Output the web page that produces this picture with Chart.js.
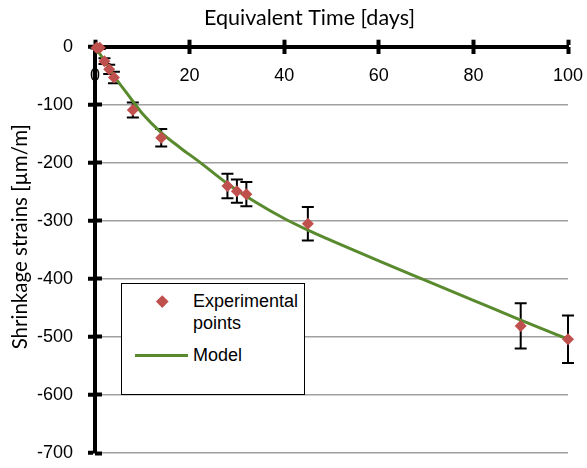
<!DOCTYPE html>
<html>
<head>
<meta charset="utf-8">
<title>Shrinkage strains</title>
<script src="https://cdn.jsdelivr.net/npm/chart.js@4.4.1/dist/chart.umd.min.js"></script>
<style>
  html, body { margin: 0; padding: 0; background: #fff; }
  #wrap { position: relative; width: 587px; height: 468px; }
  #legend {
    position: absolute; left: 121px; top: 283px; width: 184px; height: 112px;
    box-sizing: border-box; border: 1.5px solid #000; background: #fff;
    font-family: "Liberation Sans", Arial, sans-serif; font-size: 18px; color: #000;
  }
  #legend .txt { position: absolute; left: 71px; width: 110px; line-height: 21.5px; }
  #legend .dia { position: absolute; width: 8.5px; height: 8.5px; transform: rotate(45deg); }
  #legend .ln { position: absolute; height: 3px; }
</style>
</head>
<body>
<div id="wrap">
  <canvas id="shrinkChart" width="587" height="468"></canvas>
  <div id="legend"></div>
</div>
<script>
//[Shrinkage vs equivalent time]

// experimental points (days, strain, +/- error)
var expDays   = [0.3, 1, 2, 3, 4, 8, 14, 28, 30, 32, 45, 90, 100];
var expStrain = [-2, -2, -25, -39, -53, -109, -157, -240, -249, -254, -305, -481, -504];
var expErr    = [1, 2, 5, 8, 10, 13, 15, 21, 20, 21, 29, 39, 41];

// model curve
var modelDays   = [0, 2, 4, 7, 10, 14, 18, 22, 28, 34, 40, 45, 50, 60, 70, 80, 90, 100];
var modelStrain = [0, -24, -50, -83, -115, -148, -174, -198, -236, -268, -296, -316, -334, -369, -403, -437, -471, -504];

var xTicks = [0, 20, 40, 60, 80, 100];
var yTicks = [0, -100, -200, -300, -400, -500, -600, -700];

var seriesLabels = ['Experimental points', 'Model'];
var red   = '#c0504d';
var green = '#5a8a2e';

function pairs(xs, ys) {
  var out = [];
  for (var i = 0; i < xs.length; i++) out.push({x: xs[i], y: ys[i]});
  return out;
}

// error bars, drawn with the chart's own scales
var errorBars = {
  id: 'errorBars',
  beforeDatasetsDraw: function (chart) {
    var ctx = chart.ctx, xs = chart.scales.x, ys = chart.scales.y;
    ctx.save();
    ctx.strokeStyle = '#000';
    ctx.lineWidth = 2;
    for (var i = 0; i < expDays.length; i++) {
      var px = xs.getPixelForValue(expDays[i]);
      var top = ys.getPixelForValue(expStrain[i] + expErr[i]);
      var bot = ys.getPixelForValue(expStrain[i] - expErr[i]);
      ctx.beginPath();
      ctx.moveTo(px, top); ctx.lineTo(px, bot);
      ctx.moveTo(px - 6, top); ctx.lineTo(px + 6, top);
      ctx.moveTo(px - 6, bot); ctx.lineTo(px + 6, bot);
      ctx.stroke();
    }
    ctx.restore();
  }
};

var tickFont  = {family: '"Liberation Sans", Arial, sans-serif', size: 18};
var titleFont = {family: 'Lato, "Open Sans", sans-serif', size: 21.5};
var yTitleFont = {family: 'Lato, "Open Sans", sans-serif', size: 20.5};

// label padding should not eat into the plot area
function noMargins(s) { s.paddingLeft = 0; s.paddingRight = 0; s.paddingTop = 0; s.paddingBottom = 0; }

var chart = new Chart(document.getElementById('shrinkChart'), {
  type: 'scatter',
  data: {
    datasets: [
      {
        label: seriesLabels[0],
        data: pairs(expDays, expStrain),
        pointStyle: 'rectRot',
        pointRadius: 6,
        backgroundColor: red,
        borderColor: red,
        borderWidth: 0,
        clip: false,
        order: 0
      },
      {
        label: seriesLabels[1],
        data: pairs(modelDays, modelStrain),
        showLine: true,
        borderColor: green,
        borderWidth: 3,
        cubicInterpolationMode: 'monotone',
        pointRadius: 0,
        order: 1
      }
    ]
  },
  options: {
    responsive: false,
    animation: false,
    layout: {autoPadding: false, padding: {left: 0, top: 0, right: 19, bottom: 15}},
    plugins: {legend: {display: false}, tooltip: {enabled: false}},
    scales: {
      // axis at strain 0, labels under it
      x: {
        type: 'linear',
        position: {y: 0},
        min: 0, max: 100,
        afterBuildTicks: function (s) { s.ticks = xTicks.map(function (v) { return {value: v}; }); },
        afterFit: noMargins,
        ticks: {font: tickFont, color: '#000', padding: 12, maxRotation: 0, autoSkip: false},
        grid: {drawOnChartArea: false, tickLength: 7, tickWidth: 4, tickColor: '#000'},
        border: {display: false}
      },
      // top band: title and upper half of the tick crosses
      x2: {
        type: 'linear',
        axis: 'x',
        position: 'top',
        min: 0, max: 100,
        afterBuildTicks: function (s) { s.ticks = xTicks.map(function (v) { return {value: v}; }); },
        afterFit: function (s) { s.height = 46.7; noMargins(s); },
        ticks: {display: false},
        grid: {drawOnChartArea: false, tickLength: 7, tickWidth: 4, tickColor: '#000'},
        border: {display: true, color: '#000', width: 4},
        // trailing spaces nudge the centred title left, as in the original
        title: {display: true, text: 'Equivalent Time [days]        ', font: titleFont, color: '#000', padding: {top: 5, bottom: 0}}
      },
      y: {
        type: 'linear',
        position: 'left',
        min: -700, max: 0,
        afterBuildTicks: function (s) { s.ticks = yTicks.map(function (v) { return {value: v}; }); },
        afterFit: function (s) { s.width = 95; noMargins(s); },
        ticks: {font: tickFont, color: '#000', padding: 15},
        grid: {color: '#a0a0a0', lineWidth: 1.5, tickLength: 7, tickWidth: 4, tickColor: '#000'},
        border: {display: true, color: '#000', width: 4},
        title: {display: true, text: '     Shrinkage strains [µm/m]', font: yTitleFont, color: '#000', padding: {top: 8, bottom: 0}}
      },
      // inner half of the y tick crosses
      yIn: {
        type: 'linear',
        axis: 'y',
        position: {x: 0},
        min: -700, max: 0,
        afterBuildTicks: function (s) { s.ticks = yTicks.map(function (v) { return {value: v}; }); },
        afterFit: noMargins,
        ticks: {display: false},
        grid: {drawOnChartArea: false, tickLength: -7, tickWidth: 4, tickColor: '#000'},
        border: {display: false}
      }
    }
  },
  plugins: [errorBars]
});

// legend box (html, so the first label can wrap like the original)
var lg = document.getElementById('legend');
lg.innerHTML =
  '<div class="dia" style="left:35.5px;top:12.5px;background:' + red + '"></div>' +
  '<div class="txt" style="top:7px">' + seriesLabels[0] + '</div>' +
  '<div class="ln" style="left:13px;top:70px;width:53px;background:' + green + '"></div>' +
  '<div class="txt" style="top:61px">' + seriesLabels[1] + '</div>';
</script>
</body>
</html>
